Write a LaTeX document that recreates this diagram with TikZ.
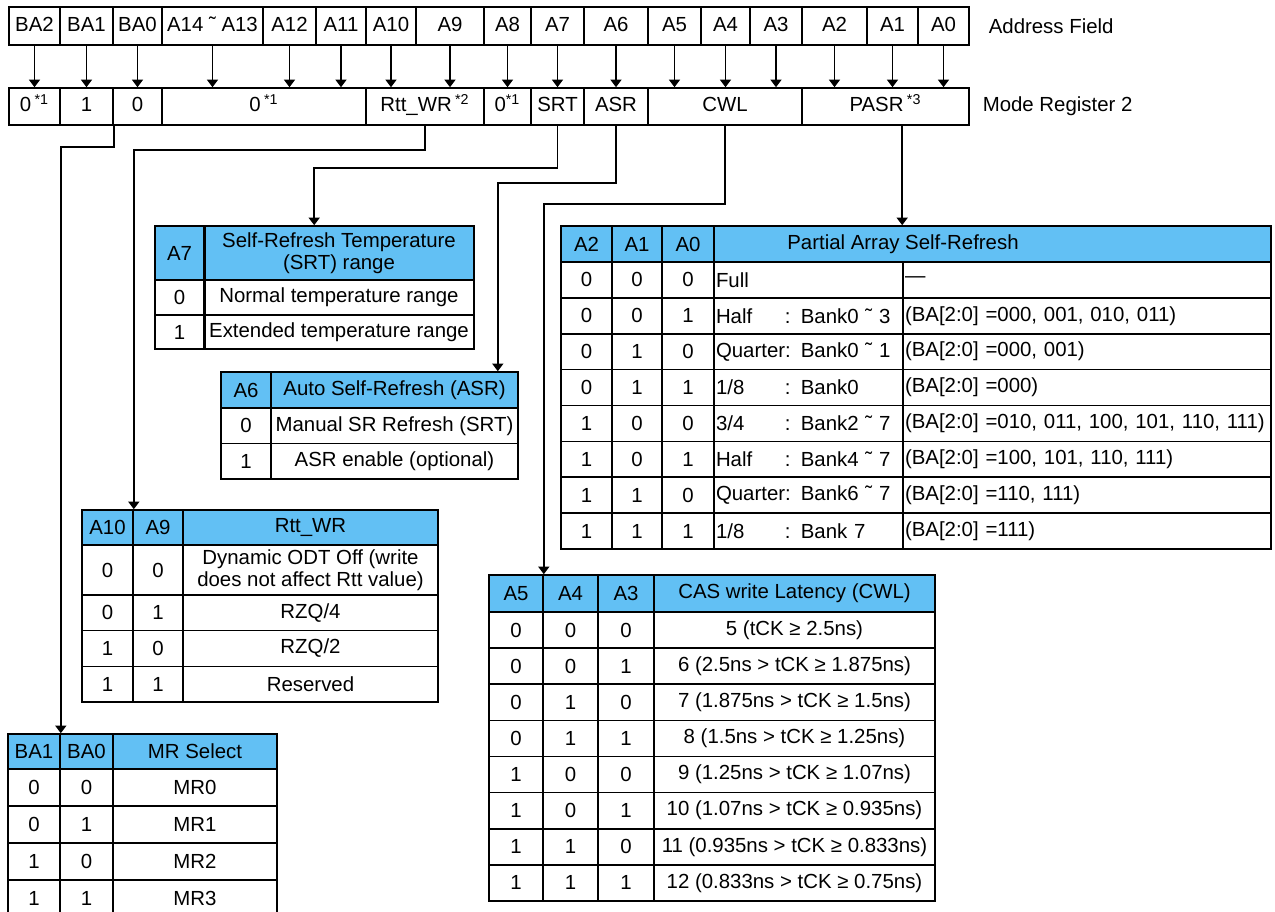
\documentclass[tikz,border=0pt]{standalone}
\usepackage{fontspec}
\setmainfont{Liberation Sans}
\usetikzlibrary{arrows.meta}
\definecolor{hdblue}{RGB}{98,192,244}

\begin{document}
\begin{tikzpicture}[x=0.5pt, y=-0.5pt, >={Triangle[length=3.8pt,width=5.5pt]},
  font=\fontsize{10.2}{11}\selectfont, line width=0.8pt,
  cell/.style 2 args={draw, inner sep=0pt, minimum width=(#1)*0.5pt, minimum height=(#2)*0.5pt},
  one/.style={text height=7.4pt, text depth=2pt},
  hd/.style={fill=hdblue},
  lbl/.style={anchor=west, inner sep=0pt}]
  \useasboundingbox (0,0) rectangle (1275,911);

  % address field
  \foreach \xa/\xb/\txt [count=\i] in {9/60/BA2, 60/113/BA1, 113/162/BA0, 162/263/A14 ˜ A13,
      263/316/A12, 316/366/A11, 366/416/A10, 416/484/A9, 484/531/A8, 531/584/A7,
      584/648/A6, 648/701/A5, 701/750/A4, 750/802/A3, 802/867/A2, 867/918/A1, 918/969/A0}
    \node[cell={\xb-\xa}{38}, one] (a\i) at ({(\xa+\xb)/2},26) {\txt};
  \node[lbl] (afl) at (988,26) {Address Field};

  % mode register 2
  \foreach \xa/\xb/\txt [count=\i] in {9/60/{0\,\textsuperscript{*1}}, 60/113/1, 113/162/0,
      162/366/{0\,\textsuperscript{*1}}, 366/484/{Rtt\_WR\,\textsuperscript{*2}},
      484/531/{0\textsuperscript{*1}}, 531/584/SRT, 584/648/ASR, 648/802/CWL,
      802/969/{PASR\,\textsuperscript{*3}}}
    \node[cell={\xb-\xa}{37}, one] (m\i) at ({(\xa+\xb)/2},106.5) {\txt};
  \node[lbl] (mrl) at (982,106.5) {Mode Register 2};

  \foreach \i in {1,...,17}
    \draw[->] (a\i.south) -- (a\i.south |- m1.north);

  % SRT
  \node[cell={49}{54}, hd] (srtA7) at (179.5,253) {A7};
  \node[cell={270}{54}, hd, align=center] (srtH) at (339,253) {Self-Refresh Temperature\\(SRT) range};
  \node[cell={49}{35}] (srtV0) at (179.5,297.5) {0};
  \node[cell={270}{35}] (srtT0) at (339,297.5) {Normal temperature range};
  \node[cell={49}{34}] (srtV1) at (179.5,332) {1};
  \node[cell={270}{34}] (srtT1) at (339,332) {Extended temperature range};
  \draw[line width=1.6pt] (srtA7.north east) -- (srtV1.south east);

  % ASR
  \node[cell={50}{36}, hd] (asrA6) at (246,390) {A6};
  \node[cell={247}{36}, hd] (asrH) at (394.5,390) {Auto Self-Refresh (ASR)};
  \node[cell={50}{35.5}] (asrV0) at (246,425.75) {0};
  \node[cell={247}{35.5}] (asrT0) at (394.5,425.75) {Manual SR Refresh (SRT)};
  \node[cell={50}{35.5}] (asrV1) at (246,461.25) {1};
  \node[cell={247}{35.5}] (asrT1) at (394.5,461.25) {ASR enable (optional)};

  % Rtt_WR
  \node[cell={51}{35}, hd] (rttA10) at (107.5,527.5) {A10};
  \node[cell={50}{35}, hd] (rttA9) at (158,527.5) {A9};
  \node[cell={255}{35}, hd] (rttH) at (310.5,527.5) {Rtt\_WR};
  \node[cell={51}{50}] (rttP1) at (107.5,570) {0};
  \node[cell={50}{50}] (rttQ1) at (158,570) {0};
  \node[cell={255}{50}, align=center] (rttT1) at (310.5,570) {Dynamic ODT Off (write\\does not affect Rtt value)};
  \foreach \p/\q/\txt [count=\i from 2] in {0/1/{RZQ/4}, 1/0/{RZQ/2}, 1/1/Reserved} {
    \pgfmathsetmacro\yc{595+(\i-1.5)*35.67}
    \node[cell={51}{35.67}] (rttP\i) at (107.5,\yc) {\p};
    \node[cell={50}{35.67}] (rttQ\i) at (158,\yc) {\q};
    \node[cell={255}{35.67}] (rttT\i) at (310.5,\yc) {\txt};
  }

  % MR select
  \node[cell={52}{35}, hd] (selBA1) at (34,751.5) {BA1};
  \node[cell={53}{35}, hd] (selBA0) at (86.5,751.5) {BA0};
  \node[cell={164}{35}, hd] (selH) at (195,751.5) {MR Select};
  \foreach \p/\q/\txt [count=\i] in {0/0/MR0, 0/1/MR1, 1/0/MR2, 1/1/MR3} {
    \pgfmathsetmacro\yc{769+(\i-0.5)*37}
    \node[cell={52}{37}] (selP\i) at (34,\yc) {\p};
    \node[cell={53}{37}] (selQ\i) at (86.5,\yc) {\q};
    \node[cell={164}{37}] (selT\i) at (195,\yc) {\txt};
  }

  % CWL
  \node[cell={54}{37}, hd] (cwlA5) at (516,593.5) {A5};
  \node[cell={55}{37}, hd] (cwlA4) at (570.5,593.5) {A4};
  \node[cell={56}{37}, hd] (cwlA3) at (626,593.5) {A3};
  \node[cell={281}{37}, hd] (cwlH) at (794.5,593.5) {CAS write Latency (CWL)};
  \foreach \p/\q/\s/\txt [count=\i] in {0/0/0/{5 (tCK ≥ 2.5ns)},
      0/0/1/{6 (2.5ns > tCK ≥ 1.875ns)}, 0/1/0/{7 (1.875ns > tCK ≥ 1.5ns)},
      0/1/1/{8 (1.5ns > tCK ≥ 1.25ns)}, 1/0/0/{9 (1.25ns > tCK ≥ 1.07ns)},
      1/0/1/{10 (1.07ns > tCK ≥ 0.935ns)}, 1/1/0/{11 (0.935ns > tCK ≥ 0.833ns)},
      1/1/1/{12 (0.833ns > tCK ≥ 0.75ns)}} {
    \pgfmathsetmacro\yc{612+(\i-0.5)*36.125}
    \node[cell={54}{36.125}] (cwlP\i) at (516,\yc) {\p};
    \node[cell={55}{36.125}] (cwlQ\i) at (570.5,\yc) {\q};
    \node[cell={56}{36.125}] (cwlS\i) at (626,\yc) {\s};
    \node[cell={281}{36.125}] (cwlT\i) at (794.5,\yc) {\txt};
  }

  % PASR
  \node[cell={51}{36}, hd] (pasrA2) at (586.5,244) {A2};
  \node[cell={50}{36}, hd] (pasrA1) at (637,244) {A1};
  \node[cell={52}{36}, hd] (pasrA0) at (688,244) {A0};
  \node[cell={557}{36}, hd] (pasrH) at (992.5,244) {};
  \node (pasrHt) at (903,244) {Partial Array Self-Refresh};
  \foreach \p/\q/\s/\md/\ba [count=\i] in {0/0/0/Full/—,
      0/0/1/{\makebox[34.5pt][l]{Half}: Bank0 ˜ 3}/{(BA[2:0] =000, 001, 010, 011)},
      0/1/0/{\makebox[34.5pt][l]{Quarter}: Bank0 ˜ 1}/{(BA[2:0] =000, 001)},
      0/1/1/{\makebox[34.5pt][l]{1/8}: Bank0}/{(BA[2:0] =000)},
      1/0/0/{\makebox[34.5pt][l]{3/4}: Bank2 ˜ 7}/{(BA[2:0] =010, 011, 100, 101, 110, 111)},
      1/0/1/{\makebox[34.5pt][l]{Half}: Bank4 ˜ 7}/{(BA[2:0] =100, 101, 110, 111)},
      1/1/0/{\makebox[34.5pt][l]{Quarter}: Bank6 ˜ 7}/{(BA[2:0] =110, 111)},
      1/1/1/{\makebox[34.5pt][l]{1/8}: Bank 7}/{(BA[2:0] =111)}} {
    \pgfmathsetmacro\yc{262+(\i-0.5)*35.875}
    \node[cell={51}{35.875}] (pasrP\i) at (586.5,\yc) {\p};
    \node[cell={50}{35.875}] (pasrQ\i) at (637,\yc) {\q};
    \node[cell={52}{35.875}] (pasrS\i) at (688,\yc) {\s};
    \node[cell={189}{35.875}, inner xsep=1pt, text width=92.5pt, align=left] (pasrM\i) at (808.5,\yc) {\md};
    \node[cell={368}{35.875}, inner xsep=1pt, text width=182pt, align=left] (pasrB\i) at (1087,\yc) {\ba};
  }

  % connectors
  \draw[->] (m2.south east) -- ++(0,21) -| (selBA1.north east);
  \draw[->] (m5.south) -- ++(0,24) -| (rttA10.north east);
  \draw[->] (m7.south) -- ++(0,42) -| ([xshift=55.5pt]srtH.north west);
  \draw[->] (m8.south) -- ++(0,57) -| ([xshift=-10.5pt]asrH.north east);
  \draw[->] (m9.south) -- ++(0,78) -| (cwlA5.north east);
  \draw[->] (m10.south -| pasrB1.west) -- (pasrH.north -| pasrB1.west);
\end{tikzpicture}
\end{document}
